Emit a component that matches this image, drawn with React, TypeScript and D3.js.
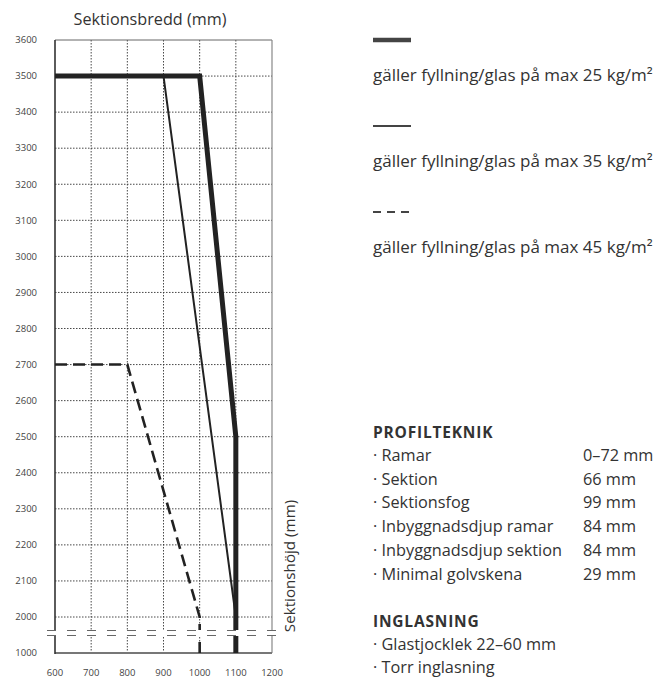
import React from "react";
import * as d3 from "d3";

const xTicks = [600, 700, 800, 900, 1000, 1100, 1200];
const yTicks = [1000, 2000, 2100, 2200, 2300, 2400, 2500, 2600, 2700, 2800, 2900, 3000, 3100, 3200, 3300, 3400, 3500, 3600];

const line25: [number, number][] = [[600, 3500], [1000, 3500], [1100, 2500], [1100, 1000]];
const line35: [number, number][] = [[900, 3500], [1100, 2000], [1100, 1000]];
const line45: [number, number][] = [[600, 2700], [800, 2700], [1000, 2000], [1000, 1000]];

const legendLabels = [
  "gäller fyllning/glas på max 25 kg/m²",
  "gäller fyllning/glas på max 35 kg/m²",
  "gäller fyllning/glas på max 45 kg/m²",
];

const profilItems: [string, string][] = [
  ["Ramar", "0–72 mm"],
  ["Sektion", "66 mm"],
  ["Sektionsfog", "99 mm"],
  ["Inbyggnadsdjup ramar", "84 mm"],
  ["Inbyggnadsdjup sektion", "84 mm"],
  ["Minimal golvskena", "29 mm"],
];
const inglasItems = ["Glastjocklek 22–60 mm", "Torr inglasning"];

const W = 665;
const H = 679;
const FONT = "'Open Sans', sans-serif";

export default function App() {
  const left = 55, right = 272, top = 40, bottom = 653;
  const x = d3.scaleLinear().domain([600, 1200]).range([left, right]);
  const y = d3.scaleLinear().domain([1000, 2000, 3600]).range([bottom, 617, top]);
  const lineGen = d3.line<[number, number]>().x((d) => x(d[0])).y((d) => y(d[1]));
  const breakY = (y(1000) + y(2000)) / 2 - 2;

  const legendY = [40, 126, 212];

  return (
    <div style={{ position: "absolute", left: 0, top: 0 }}>
      <svg width={W} height={H} style={{ display: "block", background: "#fff" }}>
        <text x={150} y={25} textAnchor="middle" fontFamily={FONT} fontSize={16.2} fontWeight={500} fill="#333">
          Sektionsbredd (mm)
        </text>
        {/* grid */}
        {xTicks.slice(1, -1).map((t) => (
          <line key={"gx" + t} x1={x(t)} x2={x(t)} y1={top} y2={bottom} stroke="#333" strokeWidth={0.9} strokeDasharray="1.5,1.5" />
        ))}
        {yTicks.slice(1, -1).map((t) => (
          <line key={"gy" + t} x1={left} x2={right} y1={y(t)} y2={y(t)} stroke="#333" strokeWidth={0.9} strokeDasharray="1.5,1.5" />
        ))}
        {/* frame */}
        <line x1={left} x2={right} y1={top} y2={top} stroke="#666" strokeWidth={1} />
        <line x1={right} x2={right} y1={top} y2={bottom} stroke="#888" strokeWidth={1.2} />
        <line x1={left} x2={right} y1={bottom} y2={bottom} stroke="#777" strokeWidth={2} />
        <line x1={left} x2={left} y1={top} y2={bottom + 1} stroke="#333" strokeWidth={1.6} />
        {/* data lines */}
        <path d={lineGen(line45) || ""} fill="none" stroke="#222" strokeWidth={2.6} strokeDasharray="12,6" />
        <path d={lineGen(line35) || ""} fill="none" stroke="#222" strokeWidth={2} />
        <path d={lineGen(line25) || ""} fill="none" stroke="#222" strokeWidth={5} />
        {/* axis break */}
        <rect x={44} y={breakY - 3} width={240} height={6} fill="#fff" />
        <line x1={47} x2={281} y1={breakY - 2.5} y2={breakY - 2.5} stroke="#666" strokeWidth={1.2} strokeDasharray="9,11" />
        <line x1={47} x2={281} y1={breakY + 2.5} y2={breakY + 2.5} stroke="#666" strokeWidth={1.2} strokeDasharray="9,11" />
        {/* y tick labels */}
        {yTicks.map((t) => (
          <text key={"yl" + t} x={37} y={y(t) + 3.3} textAnchor="end" fontFamily={FONT} fontSize={9.5} fill="#444">
            {t}
          </text>
        ))}
        {/* x tick labels */}
        {xTicks.map((t) => (
          <text key={"xl" + t} x={x(t)} y={676} textAnchor="middle" fontFamily={FONT} fontSize={9.5} fill="#444">
            {t}
          </text>
        ))}
        <text transform={`translate(295,566) rotate(-90)`} textAnchor="middle" fontFamily={FONT} fontSize={15.2} fontWeight={500} fill="#333">
          Sektionshöjd (mm)
        </text>
        {/* legend */}
        <line x1={373} x2={411} y1={legendY[0]} y2={legendY[0]} stroke="#444" strokeWidth={4.5} />
        <line x1={373} x2={411} y1={legendY[1]} y2={legendY[1]} stroke="#444" strokeWidth={2} />
        <line x1={373} x2={411} y1={legendY[2]} y2={legendY[2]} stroke="#444" strokeWidth={2} strokeDasharray="8,6" />
        {legendLabels.map((l, i) => (
          <text key={l} x={373} y={legendY[i] + 41} fontFamily={FONT} fontSize={17} fontWeight={500} fill="#333">
            {l}
          </text>
        ))}
        {/* profilteknik */}
        <text x={373} y={438} fontFamily={FONT} fontSize={15.5} fontWeight="bold" fill="#333" letterSpacing={0.8}>
          PROFILTEKNIK
        </text>
        {profilItems.map((p, i) => (
          <g key={p[0]}>
            <text x={373} y={461 + i * 23.7} fontFamily={FONT} fontSize={16.3} fontWeight={500} fill="#333">
              {"· " + p[0]}
            </text>
            <text x={583} y={461 + i * 23.7} fontFamily={FONT} fontSize={16.3} fontWeight={500} fill="#333">
              {p[1]}
            </text>
          </g>
        ))}
        <text x={373} y={626.5} fontFamily={FONT} fontSize={15.5} fontWeight="bold" fill="#333" letterSpacing={0.8}>
          INGLASNING
        </text>
        {inglasItems.map((p, i) => (
          <text key={p} x={373} y={649.5 + i * 23.7} fontFamily={FONT} fontSize={16.3} fontWeight={500} fill="#333">
            {"· " + p}
          </text>
        ))}
      </svg>
    </div>
  );
}
